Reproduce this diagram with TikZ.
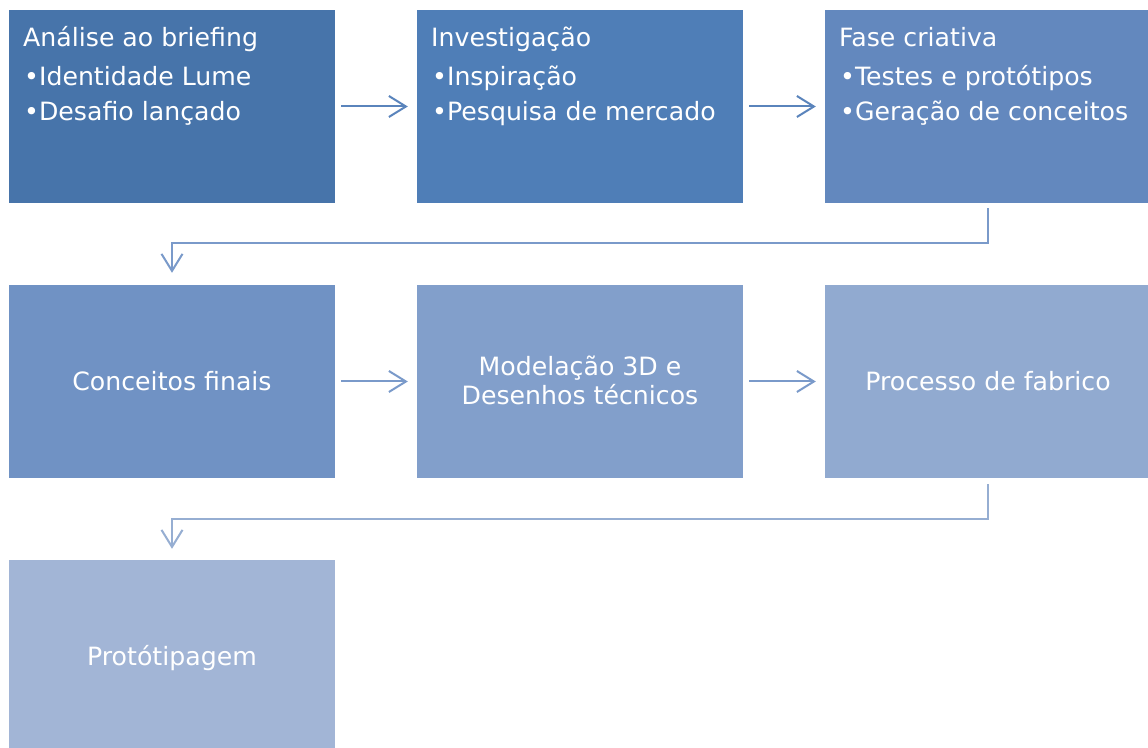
\documentclass[tikz,border=0pt]{standalone}
\usepackage{fontspec}
\setmainfont{DejaVu Sans}
\usetikzlibrary{arrows.meta}
\definecolor{c1}{HTML}{4774AA}
\definecolor{c2}{HTML}{4F7EB7}
\definecolor{c3}{HTML}{6388BE}
\definecolor{c4}{HTML}{7092C4}
\definecolor{c5}{HTML}{829FCB}
\definecolor{c6}{HTML}{91AAD0}
\definecolor{c7}{HTML}{A2B5D6}
\definecolor{a1}{HTML}{5A84BC}
\definecolor{a2}{HTML}{7A9ACA}
\definecolor{a3}{HTML}{96AED2}
\begin{document}
\begin{tikzpicture}[x=1pt,y=1pt,
  stepbox/.style={draw=none,fill=#1,minimum width=326pt,minimum height=193pt,inner sep=0pt},
  txt/.style={text=white,font=\fontsize{25.2}{29}\selectfont,inner sep=0pt},
  ltxt/.style={txt,anchor=base west},
  ctxt/.style={txt,align=center},
  conn/.style={draw=#1,line width=2pt,-{Straight Barb[length=17pt,width=21pt,line width=2pt]}},
]
\clip (0,0) rectangle (1148,747);
\fill[white] (0,0) rectangle (1148,747);
% boxes
\node[stepbox=c1] (b1) at (172,640.5) {};
\node[stepbox=c2] (b2) at (580,640.5) {};
\node[stepbox=c3] (b3) at (988,640.5) {};
\node[stepbox=c4] (b4) at (172,365.5) {};
\node[stepbox=c5] (b5) at (580,365.5) {};
\node[stepbox=c6] (b6) at (988,365.5) {};
\node[stepbox=c7] (b7) at (172,90.5) {};
% top row text
\node[ltxt] (t1a) at (23,700) {Análise ao briefing};
\node[ltxt] (t1b) at (24,661) {•Identidade Lume};
\node[ltxt] (t1c) at (24,626) {•Desafio lançado};
\node[ltxt] (t2a) at (431,700) {Investigação};
\node[ltxt] (t2b) at (432,661) {•Inspiração};
\node[ltxt] (t2c) at (432,626) {•Pesquisa de mercado};
\node[ltxt] (t3a) at (839,700) {Fase criativa};
\node[ltxt] (t3b) at (840,661) {•Testes e protótipos};
\node[ltxt] (t3c) at (840,626) {•Geração de conceitos};
% centered text
\node[ctxt] (t4) at (b4) {Conceitos finais};
\node[ctxt] (t5) at ([yshift=1pt]b5) {Modelação 3D e\\Desenhos técnicos};
\node[ctxt] (t6) at (b6) {Processo de fabrico};
\node[ctxt] (t7) at ([yshift=-2pt]b7) {Protótipagem};
% connectors
\draw[conn=a1] ([xshift=6pt]b1.east) -- ([xshift=-9pt]b2.west);
\draw[conn=a1] ([xshift=6pt]b2.east) -- ([xshift=-9pt]b3.west);
\draw[conn=a2] ([yshift=-5pt]b3.south) -- ++(0,-35) -| ([yshift=12pt]b4.north);
\draw[conn=a2] ([xshift=6pt]b4.east) -- ([xshift=-9pt]b5.west);
\draw[conn=a2] ([xshift=6pt]b5.east) -- ([xshift=-9pt]b6.west);
\draw[conn=a3] ([yshift=-6pt]b6.south) -- ++(0,-35) -| ([yshift=11pt]b7.north);
\end{tikzpicture}
\end{document}
